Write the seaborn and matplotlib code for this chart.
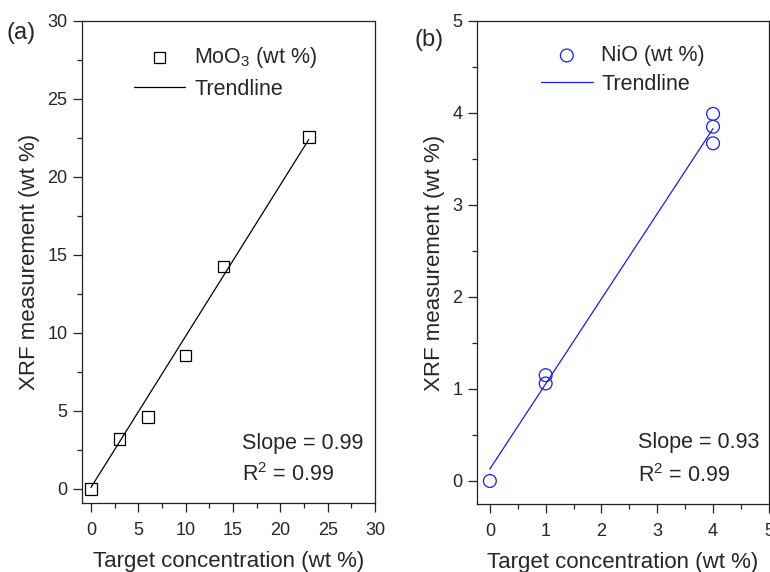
import matplotlib
matplotlib.use("Agg")
import matplotlib.pyplot as plt
from matplotlib.ticker import MultipleLocator
import seaborn as sns

sns.set_style("white")
plt.rcParams['font.family'] = ['Liberation Sans', 'DejaVu Sans']
plt.rcParams['mathtext.fontset'] = 'custom'
plt.rcParams['mathtext.rm'] = 'Liberation Sans'

# MoO3 panel (a)
moo3_target = [0, 3, 6, 10, 14, 23]
moo3_xrf = [0.0, 3.2, 4.6, 8.55, 14.25, 22.55]
moo3_trend_x = [0, 23]
moo3_trend_y = [0.1, 22.4]

# NiO panel (b)
nio_target = [0, 1, 1, 4, 4, 4]
nio_xrf = [0.0, 1.15, 1.06, 3.99, 3.85, 3.67]
nio_trend_x = [0, 4]
nio_trend_y = [0.13, 3.83]

fig = plt.figure(figsize=(7.7, 5.72), dpi=100)
ax1 = fig.add_axes([0.1065, 0.1206, 0.3805, 0.8427])
ax2 = fig.add_axes([0.6195, 0.1189, 0.3790, 0.8445])


def style_axis(ax, xmaj, xmin, ymaj, ymin):
    for s in ax.spines.values():
        s.set_color('#222222')
        s.set_linewidth(0.9)
    ax.xaxis.set_major_locator(MultipleLocator(xmaj))
    ax.xaxis.set_minor_locator(MultipleLocator(xmin))
    ax.yaxis.set_major_locator(MultipleLocator(ymaj))
    ax.yaxis.set_minor_locator(MultipleLocator(ymin))
    ax.tick_params(which='both', direction='out', bottom=True, left=True,
                   top=False, right=False, color='#222222', width=0.9)
    ax.tick_params(which='major', length=6.5, labelsize=13, pad=4)
    ax.tick_params(axis='x', which='major', pad=7)
    ax.tick_params(which='minor', length=3.5)
    ax.set_xlabel("Target concentration (wt %)", fontsize=16, labelpad=9)
    ax.set_ylabel("XRF measurement (wt %)", fontsize=16, labelpad=5)


# panel (a)
sns.scatterplot(x=moo3_target, y=moo3_xrf, ax=ax1, marker='s', s=70,
                facecolor='none', edgecolor='black', linewidth=0.9,
                label=r"MoO$_3$ (wt %)", zorder=3)
sns.lineplot(x=moo3_trend_x, y=moo3_trend_y, ax=ax1, color='black',
             linewidth=0.9, label="Trendline")
ax1.set_xlim(-0.95, 30)
ax1.set_ylim(-0.9, 30)
style_axis(ax1, 5, 2.5, 5, 2.5)
ax1.legend(loc='upper center', bbox_to_anchor=(0.49, 0.99), frameon=False,
           fontsize=15.5, handlelength=2.4, handletextpad=0.4, labelspacing=0.4)
ax1.text(0.546, 0.124, "Slope = 0.99", transform=ax1.transAxes,
         fontsize=15.5, va='center')
ax1.text(0.546, 0.060, "R$^2$ = 0.99", transform=ax1.transAxes,
         fontsize=15.5, va='center')
fig.text(0.009, 0.942, "(a)", fontsize=17, va='center')

# panel (b)
sns.scatterplot(x=nio_target, y=nio_xrf, ax=ax2, marker='o', s=85,
                facecolor='none', edgecolor='#1a1aff', linewidth=0.9,
                label="NiO (wt %)", zorder=3)
sns.lineplot(x=nio_trend_x, y=nio_trend_y, ax=ax2, color='#1a1aff',
             linewidth=0.9, label="Trendline")
ax2.set_xlim(-0.23, 5)
ax2.set_ylim(-0.25, 5)
style_axis(ax2, 1, 0.5, 1, 0.5)
ax2.legend(loc='upper center', bbox_to_anchor=(0.5, 0.99), frameon=False,
           fontsize=15.5, handlelength=2.4, handletextpad=0.4, labelspacing=0.35)
ax2.text(0.551, 0.127, "Slope = 0.93", transform=ax2.transAxes,
         fontsize=15.5, va='center')
ax2.text(0.551, 0.058, "R$^2$ = 0.99", transform=ax2.transAxes,
         fontsize=15.5, va='center')
fig.text(0.538, 0.930, "(b)", fontsize=17, va='center')

fig.savefig("out.png", dpi=100)
